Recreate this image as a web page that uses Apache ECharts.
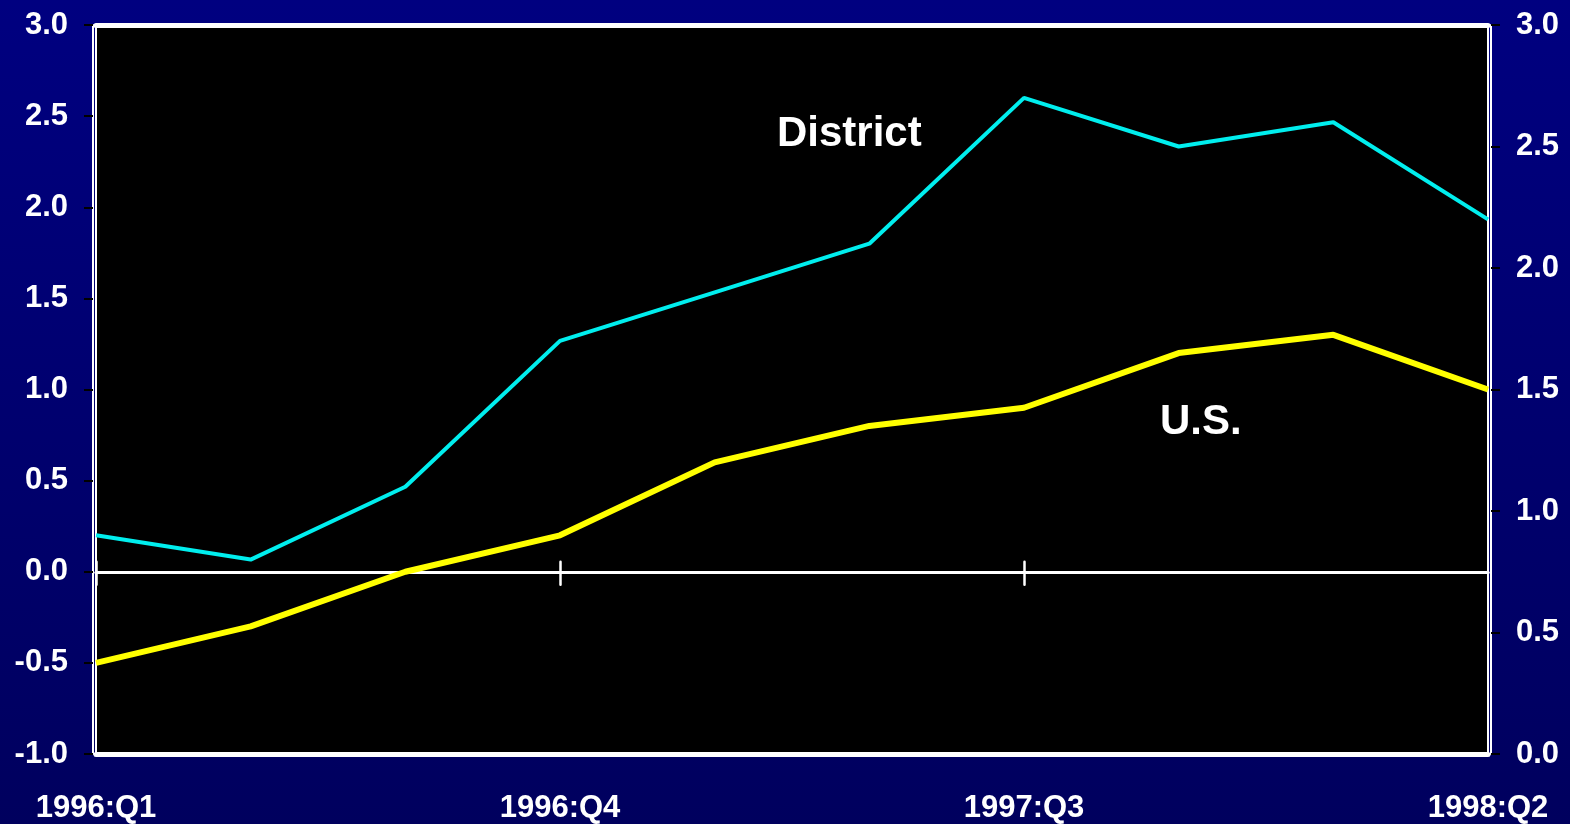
<!DOCTYPE html>
<html>
<head>
<meta charset="utf-8">
<script src="https://cdn.jsdelivr.net/npm/echarts@6/dist/echarts.min.js"></script>
<style>
  html, body { margin: 0; padding: 0; }
  #chart { width: 1570px; height: 824px; }
</style>
</head>
<body>
<div id="chart"></div>
<script>
// quarters on the x axis
const quarters = ['1996:Q1', '1996:Q2', '1996:Q3', '1996:Q4', '1997:Q1',
  '1997:Q2', '1997:Q3', '1997:Q4', '1998:Q1', '1998:Q2']
// District (right axis)
const district = [0.9, 0.8, 1.1, 1.7, 1.9, 2.1, 2.7, 2.5, 2.6, 2.2]
// U.S. (left axis)
const us = [-0.5, -0.3, 0.0, 0.2, 0.6, 0.8, 0.9, 1.2, 1.3, 1.0]
// axis ranges
const leftAxisRange = [-1.0, 3.0]
const rightAxisRange = [0.0, 3.0]
const tickStep = 0.5

const font = "'Liberation Sans', Arial, sans-serif"
const chart = echarts.init(document.getElementById('chart'))

// ticks on the zero line every 3rd quarter, none on the last one
const zeroTick = (i) => i % 3 === 0 && i < quarters.length - 1

const baseX = {
  type: 'category',
  data: quarters,
  boundaryGap: false,
  splitLine: { show: false },
  axisLabel: { show: false },
  axisTick: { show: false },
}

chart.setOption({
  backgroundColor: new echarts.graphic.LinearGradient(0, 0, 0, 1, [
    { offset: 0, color: '#000080' },
    { offset: 1, color: '#00005e' },
  ]),
  animation: false,
  grid: {
    left: 96,
    right: 82,
    top: 25,
    bottom: 69,
    show: true,
    backgroundColor: '#000000',
    borderColor: '#ffffff',
    borderWidth: 2,
  },
  xAxis: [
    {
      // zero line, ticks hanging below
      ...baseX,
      position: 'bottom',
      axisLine: { show: true, onZero: true, onZeroAxisIndex: 0, lineStyle: { color: '#fff', width: 3 } },
      axisTick: { show: true, interval: zeroTick, inside: false, length: 13, lineStyle: { color: '#fff', width: 2.5, cap: 'round' } },
    },
    {
      // zero line, ticks above
      ...baseX,
      position: 'bottom',
      axisLine: { show: true, onZero: true, onZeroAxisIndex: 0, lineStyle: { color: '#fff', width: 3 } },
      axisTick: { show: true, interval: zeroTick, inside: true, length: 10, lineStyle: { color: '#fff', width: 2.5, cap: 'round' } },
    },
    {
      // bottom frame + labels
      ...baseX,
      position: 'bottom',
      axisLine: { show: true, onZero: false, lineStyle: { color: '#fff', width: 5 } },
      axisLabel: {
        show: true,
        interval: 2,
        color: '#fff',
        fontSize: 31,
        fontWeight: 'bold',
        fontFamily: font,
        margin: 39,
      },
    },
    {
      // top frame
      ...baseX,
      position: 'top',
      axisLine: { show: true, onZero: false, lineStyle: { color: '#fff', width: 5 } },
    },
  ],
  yAxis: [
    {
      type: 'value',
      position: 'left',
      offset: 3,
      min: leftAxisRange[0],
      max: leftAxisRange[1],
      interval: tickStep,
      splitLine: { show: false },
      axisLine: { show: true, lineStyle: { color: '#fff', width: 2 } },
      axisTick: { show: true, length: 9, lineStyle: { color: '#000', width: 2 } },
      axisLabel: {
        color: '#fff',
        fontSize: 31,
        fontWeight: 'bold',
        fontFamily: font,
        margin: 25,
        formatter: (v) => v.toFixed(1),
      },
    },
    {
      type: 'value',
      position: 'right',
      offset: 3,
      min: rightAxisRange[0],
      max: rightAxisRange[1],
      interval: tickStep,
      splitLine: { show: false },
      axisLine: { show: true, lineStyle: { color: '#fff', width: 2 } },
      axisTick: { show: true, length: 9, lineStyle: { color: '#000', width: 2 } },
      axisLabel: {
        color: '#fff',
        fontSize: 31,
        fontWeight: 'bold',
        fontFamily: font,
        margin: 25,
        formatter: (v) => v.toFixed(1),
      },
    },
  ],
  graphic: [
    {
      type: 'text',
      x: 777,
      y: 134,
      style: {
        text: 'District',
        fill: '#fff',
        font: 'bold 42px ' + font,
        textAlign: 'left',
        textVerticalAlign: 'middle',
      },
      z: 10,
    },
    {
      type: 'text',
      x: 1160,
      y: 422,
      style: {
        text: 'U.S.',
        fill: '#fff',
        font: 'bold 42px ' + font,
        textAlign: 'left',
        textVerticalAlign: 'middle',
      },
      z: 10,
    },
  ],
  series: [
    {
      name: 'District',
      type: 'line',
      xAxisIndex: 0,
      yAxisIndex: 1,
      data: district,
      showSymbol: false,
      lineStyle: { color: '#00eeee', width: 4 },
      z: 3,
    },
    {
      name: 'U.S.',
      type: 'line',
      xAxisIndex: 0,
      yAxisIndex: 0,
      data: us,
      showSymbol: false,
      lineStyle: { color: '#ffff00', width: 6 },
      z: 3,
    },
  ],
})
</script>
</body>
</html>
